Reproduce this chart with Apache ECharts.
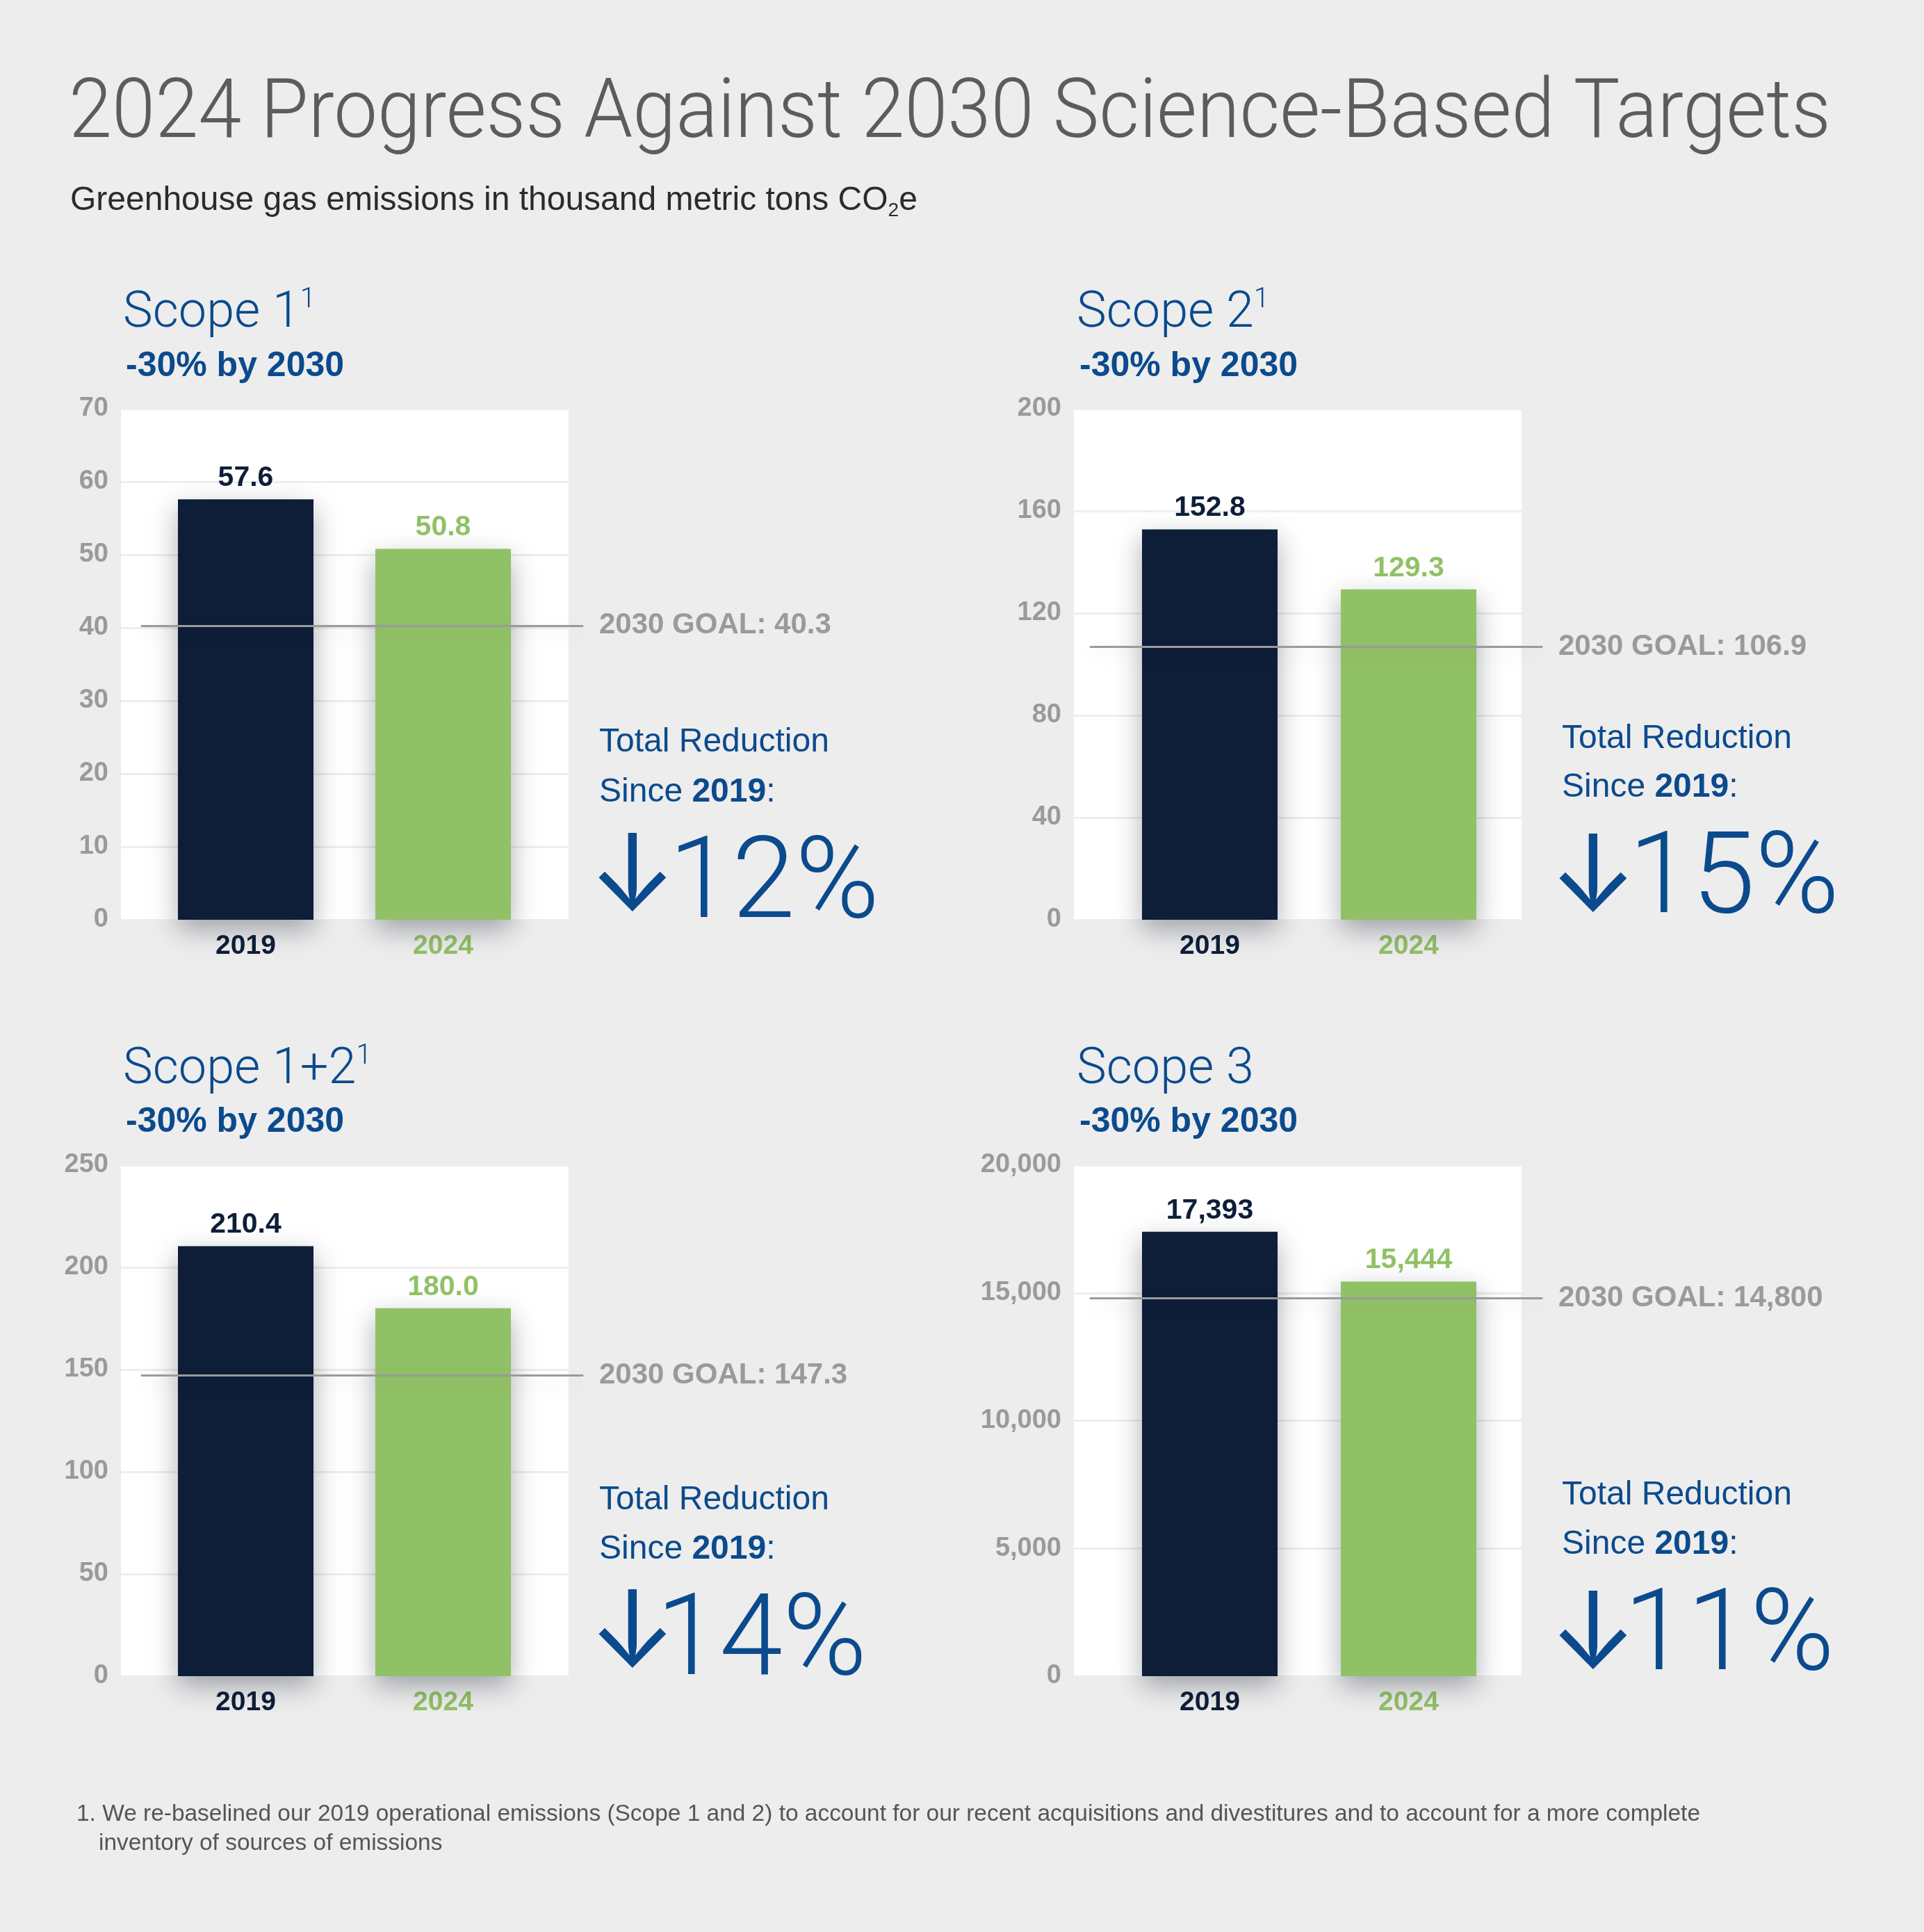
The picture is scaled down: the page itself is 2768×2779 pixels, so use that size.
<!DOCTYPE html>
<html>
<head>
<meta charset="utf-8">
<script src="https://cdn.jsdelivr.net/npm/echarts@6/dist/echarts.min.js"></script>
<style>
html,body{margin:0;padding:0;background:#ededed;}
#chart{width:2768px;height:2779px;}
</style>
</head>
<body>
<div id="chart"></div>
<script>
// ---------------- DATA ----------------
const chartTitle = '2024 Progress Against 2030 Science-Based Targets';
const subtitleMain = 'Greenhouse gas emissions in thousand metric tons CO';
const subtitleSub = '2';
const subtitleEnd = 'e';
const panelTitles = ['Scope 1', 'Scope 2', 'Scope 1+2', 'Scope 3'];
const panelNoteMarks = ['1', '1', '1', ''];
const panelTargets = ['-30% by 2030', '-30% by 2030', '-30% by 2030', '-30% by 2030'];
const categories = ['2019', '2024'];
const values2019 = [57.6, 152.8, 210.4, 17393];
const values2024 = [50.8, 129.3, 180.0, 15444];
const goals2030 = [40.3, 106.9, 147.3, 14800];
const reductionPct = [12, 15, 14, 11];
const axisMax = [70, 200, 250, 20000];
const axisInterval = [10, 40, 50, 5000];
const valueDecimals = [1, 1, 1, 0];
const footnoteLines = [
  '1. We re-baselined our 2019 operational emissions (Scope 1 and 2) to account for our recent acquisitions and divestitures and to account for a more complete',
  'inventory of sources of emissions'
];

// ---------------- STYLE / LAYOUT ----------------
const NAVY = '#0e1e38', GREEN = '#91c166', BLUE = '#0b4a8d', GRAY = '#9a9a9a';
const SANS = '"Liberation Sans", Arial, sans-serif';
const LIGHT = 'Roboto, "Liberation Sans", sans-serif';
const COLS = [
  {white: [174, 818], bars: [353.5, 637.5], goal: [204, 838], textX: 181, noteX: 862, arrowX: 910},
  {white: [1545, 2189], bars: [1740.5, 2026.5], goal: [1569, 2218], textX: 1553, noteX: 2247, arrowX: 2292}
];
const ROWS = [
  {top: 588, bottom: 1323, head: 452, target: 527},
  {top: 1676, bottom: 2411, head: 1540, target: 1614}
];
const PANEL_TEXT = [
  {total: 1068, since: 1140, big: 1278, arrow: 1263, bigX: 962},
  {total: 1063, since: 1133, big: 1271, arrow: 1264, bigX: 2343},
  {total: 2158, since: 2229, big: 2367, arrow: 2351, bigX: 944},
  {total: 2151, since: 2222, big: 2360, arrow: 2353, bigX: 2336}
];

const measureCtx = document.createElement('canvas').getContext('2d');
function textWidth(text, font) { measureCtx.font = font; return measureCtx.measureText(text).width; }

function fmt(v, dec) {
  return dec === 0 ? v.toLocaleString('en-US') : v.toFixed(dec);
}

const grids = [], xAxes = [], yAxes = [], series = [], graphics = [];

function txt(x, y, text, font, fill, extra, scaleX) {
  const st = Object.assign({text: text, font: font, fill: fill,
    align: 'left', verticalAlign: 'middle', textAlign: 'left', textVerticalAlign: 'middle'}, extra || {});
  const el = {type: 'text', x: x, y: y, silent: true, z: 10, style: st};
  if (scaleX) el.scaleX = scaleX;
  return el;
}

const titleFont = '300 118px Roboto';
graphics.push(txt(99, 167, chartTitle, titleFont, '#5c5c5c', null, 2535 / textWidth(chartTitle, titleFont)));
graphics.push(txt(101, 289, '{m|' + subtitleMain + '}{s|' + subtitleSub + '}{m|' + subtitleEnd + '}', '48px ' + SANS, '#2b2b2b', {
  rich: {
    m: {fontSize: 48, fontFamily: SANS, fill: '#2b2b2b', color: '#2b2b2b', lineHeight: 56, verticalAlign: 'middle'},
    s: {fontSize: 28, fontFamily: SANS, fill: '#2b2b2b', color: '#2b2b2b', lineHeight: 26, verticalAlign: 'bottom'}
  }
}));

for (let i = 0; i < 4; i++) {
  const col = COLS[i % 2], row = ROWS[Math.floor(i / 2)], pt = PANEL_TEXT[i];
  const H = row.bottom - row.top;
  const sp = col.bars[1] - col.bars[0];
  const gW = grids.length;
  grids.push({left: col.white[0], width: col.white[1] - col.white[0], top: row.top, height: H,
    show: true, backgroundColor: '#ffffff', borderWidth: 0, containLabel: false, outerBoundsMode: 'none'});
  grids.push({left: col.bars[0] - sp / 2, width: 2 * sp, top: row.top, height: H,
    show: false, containLabel: false, outerBoundsMode: 'none'});
  grids.push({left: col.goal[0], width: col.goal[1] - col.goal[0], top: row.top, height: H,
    show: false, containLabel: false, outerBoundsMode: 'none'});
  const gB = gW + 1, gG = gW + 2;
  const dec = valueDecimals[i];

  // white plot: y labels + split lines
  xAxes.push({gridIndex: gW, type: 'category', data: categories, show: false});
  yAxes.push({gridIndex: gW, type: 'value', min: 0, max: axisMax[i], interval: axisInterval[i],
    axisLine: {show: false}, axisTick: {show: false},
    axisLabel: {margin: 18, color: GRAY, fontSize: 38, fontWeight: 'bold', fontFamily: SANS,
      formatter: v => v.toLocaleString('en-US')},
    splitLine: {show: true, lineStyle: {color: '#eeeeee', width: 3}}});

  // bars
  xAxes.push({gridIndex: gB, type: 'category', data: categories,
    axisLine: {show: false}, axisTick: {show: false}, splitLine: {show: false},
    axisLabel: {margin: 19, formatter: (v, idx) => '{c' + idx + '|' + v + '}',
      rich: {
        c0: {color: NAVY, fontSize: 39, fontWeight: 'bold', fontFamily: SANS},
        c1: {color: GREEN, fontSize: 39, fontWeight: 'bold', fontFamily: SANS}
      }}});
  yAxes.push({gridIndex: gB, type: 'value', min: 0, max: axisMax[i], show: false, splitLine: {show: false}});

  // goal line
  xAxes.push({gridIndex: gG, type: 'category', data: categories, show: false});
  yAxes.push({gridIndex: gG, type: 'value', min: 0, max: axisMax[i], show: false, splitLine: {show: false}});

  const colors = [NAVY, GREEN];
  const vals = [values2019[i], values2024[i]];
  series.push({
    type: 'bar', xAxisIndex: gB, yAxisIndex: gB, barWidth: 195, z: 3,
    data: vals.map((v, k) => ({value: v,
      itemStyle: {color: colors[k]},
      label: {color: colors[k]}})),
    itemStyle: {shadowBlur: 36, shadowColor: 'rgba(20,28,45,0.36)', shadowOffsetY: 14},
    label: {show: true, position: 'top', distance: 10, fontSize: 41, fontWeight: 'bold', fontFamily: SANS,
      formatter: p => fmt(p.value, dec)}
  });
  series.push({
    type: 'line', xAxisIndex: gG, yAxisIndex: gG, data: [], z: 6,
    markLine: {
      silent: true, symbol: ['none', 'none'], animation: false,
      data: [{yAxis: goals2030[i]}],
      lineStyle: {color: '#9a9a9a', width: 3, type: 'solid', cap: 'round',
        shadowBlur: 24, shadowColor: 'rgba(0,0,0,0.13)', shadowOffsetY: 10},
      label: {show: true, position: 'end', distance: 24, color: GRAY, fontSize: 42, fontWeight: 'bold', fontFamily: SANS,
        formatter: () => '2030 GOAL: ' + fmt(goals2030[i], dec === 0 ? 0 : 1)}
    }
  });

  // texts
  graphics.push(txt(col.textX - 4, row.head, '{m|' + panelTitles[i] + '}{s|' + panelNoteMarks[i] + '}', '300 72px ' + LIGHT, BLUE, {
    rich: {
      m: {fontSize: 72, fontFamily: LIGHT, fontWeight: 300, fill: BLUE, color: BLUE, lineHeight: 80, verticalAlign: 'middle'},
      s: {fontSize: 40, fontFamily: LIGHT, fontWeight: 300, fill: BLUE, color: BLUE, lineHeight: 56, verticalAlign: 'top'}
    }
  }));
  graphics.push(txt(col.textX, row.target, panelTargets[i], 'bold 50px ' + SANS, BLUE));
  graphics.push(txt(col.noteX, pt.total, 'Total Reduction', '48px ' + SANS, BLUE));
  graphics.push(txt(col.noteX, pt.since, '{r|Since }{b|' + categories[0] + '}{r|:}', '48px ' + SANS, BLUE, {
    rich: {
      r: {fontSize: 48, fontFamily: SANS, fill: BLUE, color: BLUE},
      b: {fontSize: 48, fontFamily: SANS, fontWeight: 'bold', fill: BLUE, color: BLUE}
    }
  }));
  graphics.push(txt(col.arrowX, pt.arrow, '\u2193', '152px Inter', BLUE, {align: 'center', textAlign: 'center'}));
  graphics.push(txt(pt.bigX, pt.big, reductionPct[i] + '%', '300 164px ' + LIGHT, BLUE));
}

const footFont = '33px ' + SANS;
const footScale = 2336 / textWidth(footnoteLines[0], footFont);
graphics.push(txt(110, 2610, footnoteLines[0], footFont, '#555555', null, footScale));
graphics.push(txt(142, 2652, footnoteLines[1], footFont, '#555555', null, footScale));

const chart = echarts.init(document.getElementById('chart'), null, {renderer: 'canvas'});
chart.setOption({
  backgroundColor: '#ededed',
  animation: false,
  grid: grids, xAxis: xAxes, yAxis: yAxes, series: series,
  graphic: {elements: graphics}
});
</script>
</body>
</html>
